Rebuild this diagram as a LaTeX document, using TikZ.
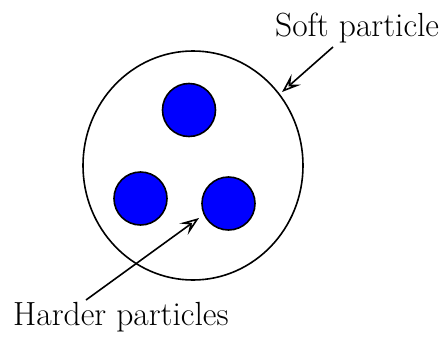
\documentclass[tikz,border=0pt]{standalone}
\usetikzlibrary{shapes.geometric,arrows.meta}
\begin{document}
\begin{tikzpicture}[x=1pt,y=-1pt,
  outline/.style={draw=black,line width=1.6pt},
  hard/.style={circle,outline,fill=blue,minimum size=53pt,inner sep=0pt},
  pointer/.style={line width=1.6pt,-{Stealth[open,length=19pt,width=14pt,inset=8pt]}},
  lbl/.style={inner sep=0pt,anchor=base west,font=\fontsize{33.5}{40}\selectfont}]
\useasboundingbox (0,0) rectangle (444,340);
\node[ellipse,outline,minimum width=220pt,minimum height=229pt,inner sep=0pt] (soft) at (193,165.5) {};
\node[hard] (h1) at (189,110) {};
\node[hard] (h2) at (140.5,198.5) {};
\node[hard] (h3) at (228.5,203.5) {};
\node[lbl] (tsoft) at (275,36) {Soft particle};
\node[lbl] (thard) at (13,325) {Harder particles};
\coordinate (s1) at (333,47);
\coordinate (s2) at (282,92);
\coordinate (a1) at (86,300);
\coordinate (a2) at (199,218);
\draw[pointer] (s1) -- (s2);
\draw[pointer] (a1) -- (a2);
\end{tikzpicture}
\end{document}
